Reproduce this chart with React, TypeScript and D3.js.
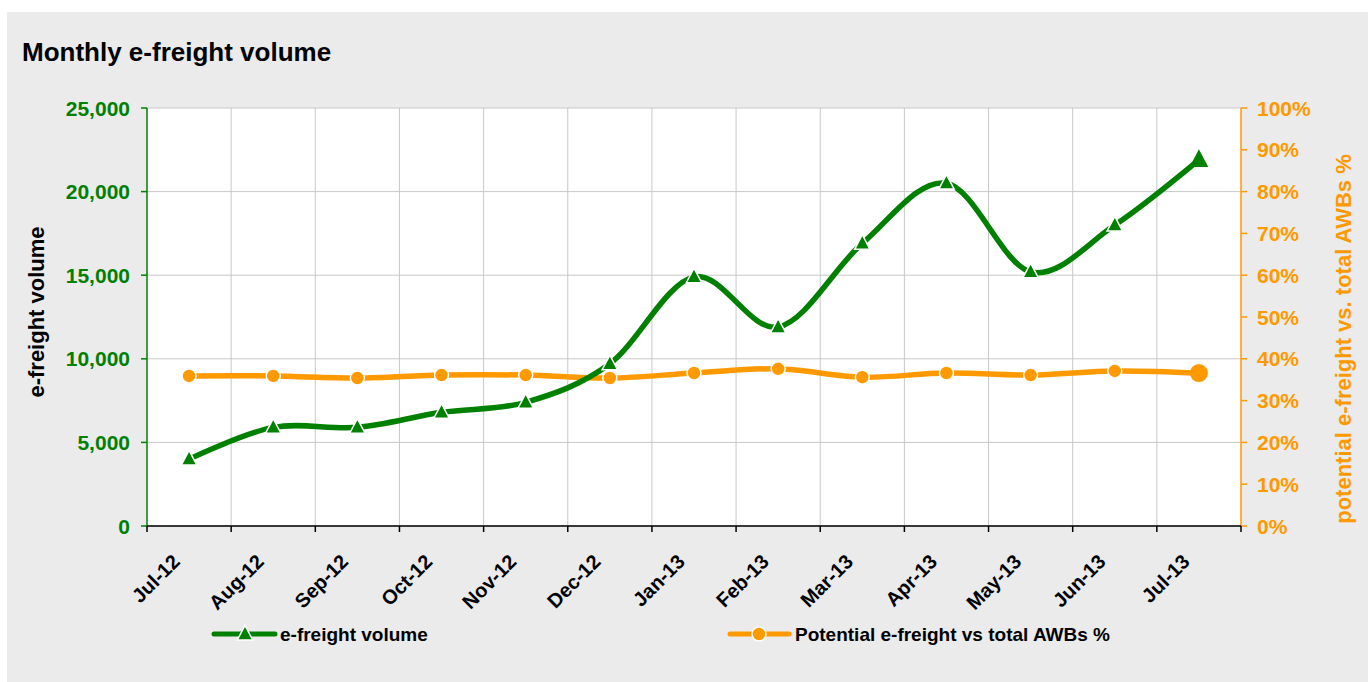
import React from "react";
import * as d3 from "d3";

const months = ["Jul-12", "Aug-12", "Sep-12", "Oct-12", "Nov-12", "Dec-12", "Jan-13", "Feb-13", "Mar-13", "Apr-13", "May-13", "Jun-13", "Jul-13"];
const volume = [4000, 5900, 5900, 6800, 7400, 9700, 14900, 11900, 16900, 20500, 15200, 18000, 21900];
const share = [0.359, 0.359, 0.354, 0.361, 0.361, 0.354, 0.366, 0.376, 0.356, 0.366, 0.361, 0.371, 0.366];
const volumeTicks = [0, 5000, 10000, 15000, 20000, 25000];
const shareTicks = [0, 0.1, 0.2, 0.3, 0.4, 0.5, 0.6, 0.7, 0.8, 0.9, 1];

const GREEN = "#008000";
const ORANGE = "#ff9900";
const FONT = "'Liberation Sans', Arial, sans-serif";

export default function App() {
  const W = 1368, H = 682;
  const left = 147, right = 1241, top = 108, bottom = 526;

  const x = d3.scaleBand().domain(months).range([left, right]).padding(0);
  const yL = d3.scaleLinear().domain([0, 25000]).range([bottom, top]);
  const yR = d3.scaleLinear().domain([0, 1]).range([bottom, top]);
  const cx = (m: string) => (x(m) as number) + x.bandwidth() / 2;

  // excel-style smoothing
  const curve = d3.curveCatmullRom.alpha(0);
  const volLine = d3.line<number>().x((d, i) => cx(months[i])).y(d => yL(d)).curve(curve);
  const shareLine = d3.line<number>().x((d, i) => cx(months[i])).y(d => yR(d)).curve(curve);

  const fmtL = d3.format(",");
  const fmtR = d3.format(".0%");
  const bounds = months.map(m => x(m) as number).concat([right]);

  const tri = (px: number, py: number, s: number) =>
    `M${px},${py - s * 0.62}L${px + s * 0.55},${py + s * 0.42}L${px - s * 0.55},${py + s * 0.42}Z`;

  return (
    <svg width={W} height={H} style={{ position: "absolute", left: 0, top: 0, fontFamily: FONT }}>
      <rect x={0} y={0} width={W} height={H} fill="#fff" />
      <rect x={7} y={12} width={W - 7} height={H - 12} fill="#ebebeb" />
      <text x={22} y={61} fontSize={26} fontWeight="bold" fill="#000">Monthly e-freight volume</text>

      <rect x={left} y={top} width={right - left} height={bottom - top} fill="#fff" />
      {volumeTicks.map(t => (
        <line key={"h" + t} x1={left} x2={right} y1={yL(t)} y2={yL(t)} stroke="#c8c8c8" strokeWidth={1} />
      ))}
      {bounds.slice(1, -1).map((b, i) => (
        <line key={"v" + i} x1={b} x2={b} y1={top} y2={bottom} stroke="#c8c8c8" strokeWidth={1} />
      ))}

      {/* left axis */}
      <line x1={left} x2={left} y1={top} y2={bottom} stroke={GREEN} strokeWidth={1.5} />
      {volumeTicks.map(t => (
        <g key={"lt" + t}>
          <line x1={left - 6} x2={left} y1={yL(t)} y2={yL(t)} stroke={GREEN} strokeWidth={1.5} />
          <text x={left - 17} y={yL(t)} dy="0.36em" textAnchor="end" fontSize={21} fontWeight="bold" fill={GREEN}>{fmtL(t)}</text>
        </g>
      ))}
      <text transform={`translate(44, ${(top + bottom) / 2 - 5}) rotate(-90)`} textAnchor="middle" fontSize={22} fontWeight="bold" fill="#000">e-freight volume</text>

      {/* right axis */}
      <line x1={right} x2={right} y1={top} y2={bottom} stroke={ORANGE} strokeWidth={1.5} />
      {shareTicks.map(t => (
        <g key={"rt" + t}>
          <line x1={right} x2={right + 6} y1={yR(t)} y2={yR(t)} stroke={ORANGE} strokeWidth={1.5} />
          <text x={right + 16} y={yR(t)} dy="0.36em" textAnchor="start" fontSize={21} fontWeight="bold" fill={ORANGE}>{fmtR(t)}</text>
        </g>
      ))}
      <text transform={`translate(1351, ${(top + bottom) / 2 + 22}) rotate(-90)`} textAnchor="middle" fontSize={22} fontWeight="bold" fill={ORANGE}>potential e-freight vs. total AWBs %</text>

      {/* bottom axis */}
      <line x1={left} x2={right} y1={bottom} y2={bottom} stroke="#000" strokeWidth={1.5} />
      {bounds.map((b, i) => (
        <line key={"bt" + i} x1={b} x2={b} y1={bottom} y2={bottom + 6} stroke="#000" strokeWidth={1.5} />
      ))}
      {months.map(m => (
        <text key={"bl" + m} transform={`translate(${cx(m) - 8}, 563) rotate(-45)`} textAnchor="end" fontSize={20} fontWeight="bold" fill="#000">{m}</text>
      ))}

      {/* series */}
      <path d={shareLine(share) || ""} fill="none" stroke={ORANGE} strokeWidth={5.5} strokeLinejoin="round" />
      <path d={volLine(volume) || ""} fill="none" stroke={GREEN} strokeWidth={5.5} strokeLinejoin="round" />
      {share.map((v, i) => {
        const last = i === share.length - 1;
        return <circle key={"c" + i} cx={cx(months[i])} cy={yR(v)} r={last ? 9 : 7} fill={ORANGE} stroke={last ? "none" : "#fff"} strokeWidth={1.5} />;
      })}
      {volume.map((v, i) => {
        const last = i === volume.length - 1;
        return <path key={"t" + i} d={tri(cx(months[i]), yL(v), last ? 17 : 14)} fill={GREEN} stroke={last ? "none" : "#fff"} strokeWidth={1.5} />;
      })}

      {/* legend */}
      <line x1={214} x2={275} y1={634} y2={634} stroke={GREEN} strokeWidth={5} strokeLinecap="round" />
      <path d={tri(245, 634, 14)} fill={GREEN} stroke="#fff" strokeWidth={1.5} />
      <text x={280} y={641} fontSize={19} fontWeight="bold" fill="#000">e-freight volume</text>
      <line x1={730} x2={789} y1={634} y2={634} stroke={ORANGE} strokeWidth={5} strokeLinecap="round" />
      <circle cx={759} cy={634} r={7} fill={ORANGE} stroke="#fff" strokeWidth={1.5} />
      <text x={795} y={641} fontSize={19} fontWeight="bold" fill="#000">Potential e-freight vs total AWBs %</text>
    </svg>
  );
}
